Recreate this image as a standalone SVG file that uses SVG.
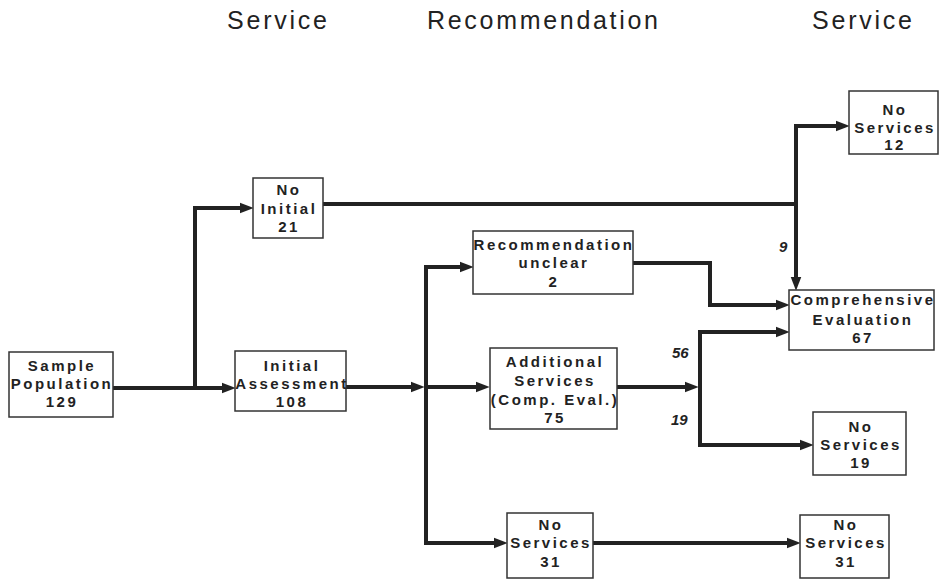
<svg xmlns="http://www.w3.org/2000/svg" width="940" height="580" viewBox="0 0 940 580">
<style>
.hdr{font-family:"Liberation Sans",Arial,sans-serif;font-size:25px;fill:#222}
.box{fill:#fff;stroke:#333;stroke-width:1.5}
.t{font-family:"Liberation Sans",Arial,sans-serif;font-weight:bold;font-size:15px;letter-spacing:2.5px;fill:#222;text-anchor:middle}
.lbl{font-family:"Liberation Sans",Arial,sans-serif;font-weight:bold;font-style:italic;font-size:15px;fill:#222}
.c{fill:none;stroke:#222;stroke-width:4;stroke-linejoin:miter}
.a{marker-end:url(#ah)}
</style>
<defs>
<marker id="ah" markerUnits="userSpaceOnUse" markerWidth="14" markerHeight="12" viewBox="0 0 13 10" refX="4" refY="5" orient="auto">
<path d="M0,0 L13,5 L0,10 z" fill="#222"/>
</marker>
</defs>
<rect width="940" height="580" fill="#fff"/>
<g id="headers">
<text class="hdr" x="227" y="29" textLength="100">Service</text>
<text class="hdr" x="427" y="29" textLength="231">Recommendation</text>
<text class="hdr" x="812" y="29" textLength="100">Service</text>
</g>
<g id="connectors">
<path class="c a" d="M113,388 H226"/>
<path class="c a" d="M195,388 V208 H244"/>
<path class="c" d="M323,204 H796"/>
<path class="c a" d="M796,204 V126 H840"/>
<path class="c a" d="M796,204 V281"/>
<path class="c a" d="M346,387 H415"/>
<path class="c a" d="M426,387 H480"/>
<path class="c a" d="M426,387 V267 H464"/>
<path class="c a" d="M426,387 V543 H498"/>
<path class="c a" d="M633,263 H710 V305 H780"/>
<path class="c a" d="M617,387 H689"/>
<path class="c a" d="M700,387 V332 H780"/>
<path class="c a" d="M700,387 V445 H804"/>
<path class="c a" d="M593,543 H791"/>
<text class="lbl" x="779" y="252">9</text>
<text class="lbl" x="672" y="358">56</text>
<text class="lbl" x="671" y="425">19</text>
</g>
<g id="sample">
<rect class="box" x="9" y="352" width="104" height="65"/>
<text class="t" x="62" y="371">Sample</text>
<text class="t" x="62" y="389">Population</text>
<text class="t" x="62" y="407">129</text>
</g>
<g id="noinitial">
<rect class="box" x="253" y="178" width="70" height="60"/>
<text class="t" x="289" y="195">No</text>
<text class="t" x="289" y="214">Initial</text>
<text class="t" x="289" y="232">21</text>
</g>
<g id="initial">
<rect class="box" x="235" y="351" width="111" height="60"/>
<text class="t" x="292" y="371">Initial</text>
<text class="t" x="292" y="389">Assessment</text>
<text class="t" x="292" y="407">108</text>
</g>
<g id="recunclear">
<rect class="box" x="473" y="231" width="160" height="63"/>
<text class="t" x="554" y="250">Recommendation</text>
<text class="t" x="554" y="268">unclear</text>
<text class="t" x="554" y="287">2</text>
</g>
<g id="additional">
<rect class="box" x="490" y="348" width="127" height="81"/>
<text class="t" x="555" y="367">Additional</text>
<text class="t" x="555" y="386">Services</text>
<text class="t" x="555" y="405">(Comp. Eval.)</text>
<text class="t" x="555" y="423">75</text>
</g>
<g id="noservices31a">
<rect class="box" x="507" y="513" width="86" height="65"/>
<text class="t" x="551" y="530">No</text>
<text class="t" x="551" y="548">Services</text>
<text class="t" x="551" y="567">31</text>
</g>
<g id="noservices12">
<rect class="box" x="849" y="91" width="89" height="63"/>
<text class="t" x="895" y="115">No</text>
<text class="t" x="895" y="133">Services</text>
<text class="t" x="895" y="150">12</text>
</g>
<g id="compeval">
<rect class="box" x="789" y="290" width="145" height="60"/>
<text class="t" x="863" y="305">Comprehensive</text>
<text class="t" x="863" y="325">Evaluation</text>
<text class="t" x="863" y="343">67</text>
</g>
<g id="noservices19">
<rect class="box" x="813" y="412" width="93" height="63"/>
<text class="t" x="861" y="432">No</text>
<text class="t" x="861" y="450">Services</text>
<text class="t" x="861" y="468">19</text>
</g>
<g id="noservices31b">
<rect class="box" x="800" y="515" width="89" height="63"/>
<text class="t" x="846" y="530">No</text>
<text class="t" x="846" y="548">Services</text>
<text class="t" x="846" y="567">31</text>
</g>
</svg>
